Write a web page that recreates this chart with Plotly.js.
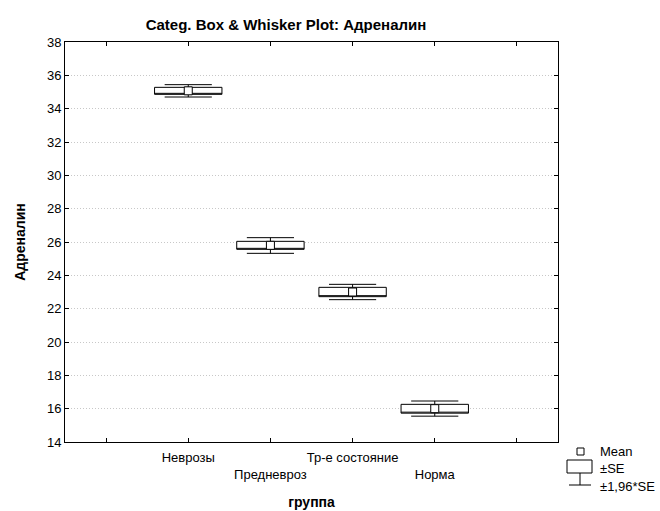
<!DOCTYPE html>
<html>
<head>
<meta charset="utf-8">
<script src="https://cdn.plot.ly/plotly-3.0.1.min.js"></script>
<style>html,body{margin:0;padding:0;background:#fff}#chart{width:660px;height:511px}</style>
</head>
<body>
<div id="chart"></div>
<script>
// ---- data ----
var categories = ['Неврозы', 'Предневроз', 'Тр-е состояние', 'Норма'];
var catPos = [0, 1, 2, 3];
var means = [35.07, 25.80, 23.00, 16.00];
var seLow = [34.86, 25.56, 22.72, 15.73];
var seHigh = [35.28, 26.04, 23.28, 16.26];
var ciLow = [34.70, 25.32, 22.54, 15.55];
var ciHigh = [35.44, 26.26, 23.46, 16.46];
var yTicks = [14, 16, 18, 20, 22, 24, 26, 28, 30, 32, 34, 36, 38];

// ---- layout helpers (pixel -> paper) ----
var L = 65, R = 558, T = 42, B = 442;
function px(x) { return (x - L) / (R - L); }
function py(y) { return (B - y) / (B - T); }

var FONT = 'Liberation Sans, Arial, sans-serif';

// staggered tick labels
var tickvals = [-1].concat(catPos).concat([4]);
var ticktext = [''].concat(categories.map(function (c, i) { return i % 2 ? '<br>' + c : c; })).concat(['']);

var boxTrace = {
  type: 'box',
  x: catPos,
  q1: seLow,
  median: seLow,
  q3: seHigh,
  lowerfence: ciLow,
  upperfence: ciHigh,
  width: 0.82,
  whiskerwidth: 0.7,
  fillcolor: '#ffffff',
  line: { color: '#000000', width: 1 },
  showlegend: false,
  hoverinfo: 'skip'
};

var meanTrace = {
  type: 'scatter',
  mode: 'markers',
  x: catPos,
  y: means,
  marker: { symbol: 'square', size: 8, color: '#ffffff', line: { color: '#000000', width: 1 } },
  showlegend: false,
  hoverinfo: 'skip'
};

var legendShapes = [
  { type: 'rect', xref: 'paper', yref: 'paper', x0: px(577), x1: px(584), y0: py(455), y1: py(448), line: { color: '#000', width: 1 }, fillcolor: '#fff' },
  { type: 'rect', xref: 'paper', yref: 'paper', x0: px(567), x1: px(592), y0: py(473), y1: py(460), line: { color: '#000', width: 1 }, fillcolor: '#fff' },
  { type: 'line', xref: 'paper', yref: 'paper', x0: px(580), x1: px(580), y0: py(485), y1: py(473), line: { color: '#000', width: 1 } },
  { type: 'line', xref: 'paper', yref: 'paper', x0: px(569), x1: px(591), y0: py(485), y1: py(485), line: { color: '#000', width: 1 } }
];

var legendAnn = [
  { text: 'Mean', y: 451 },
  { text: '±SE', y: 469 },
  { text: '±1,96*SE', y: 486 }
].map(function (a) {
  return { text: a.text, xref: 'paper', yref: 'paper', x: px(598), y: py(a.y), xanchor: 'left', yanchor: 'middle', showarrow: false, font: { family: FONT, size: 13, color: '#000' } };
});

var layout = {
  width: 660, height: 511,
  margin: { l: L, r: 660 - R, t: T, b: 511 - B, pad: 0 },
  paper_bgcolor: '#ffffff',
  plot_bgcolor: '#ffffff',
  showlegend: false,
  font: { family: FONT, size: 13, color: '#000' },
  title: {
    text: '<b>Categ. Box & Whisker Plot: Адреналин</b>',
    font: { family: FONT, size: 15, color: '#000' },
    x: 286 / 660, xanchor: 'center', xref: 'container',
    y: 1 - 25 / 511, yanchor: 'middle', yref: 'container'
  },
  xaxis: {
    range: [-1.5, 4.5],
    tickmode: 'array', tickvals: tickvals, ticktext: ticktext,
    tickangle: 0,
    ticks: 'inside', ticklen: 4, tickcolor: '#000',
    ticklabelstandoff: 3,
    showline: true, linecolor: '#000', linewidth: 1, mirror: 'ticks',
    showgrid: false, zeroline: false,
    tickfont: { family: FONT, size: 13, color: '#000' },
    title: { text: '<b>группа</b>', font: { family: FONT, size: 14, color: '#000' }, standoff: 16 }
  },
  yaxis: {
    range: [14, 38],
    tickmode: 'array', tickvals: yTicks,
    ticks: 'inside', ticklen: 4, tickcolor: '#000',
    showline: true, linecolor: '#000', linewidth: 1, mirror: 'ticks',
    showgrid: true, gridcolor: '#c8c8c8', griddash: '1px,2px', gridwidth: 1,
    zeroline: false,
    tickfont: { family: FONT, size: 13, color: '#000' },
    title: { text: '<b>Адреналин</b>', font: { family: FONT, size: 14, color: '#000' }, standoff: 18 }
  },
  shapes: legendShapes,
  annotations: legendAnn
};

Plotly.newPlot('chart', [boxTrace, meanTrace], layout, { staticPlot: true, displayModeBar: false });
</script>
</body>
</html>
